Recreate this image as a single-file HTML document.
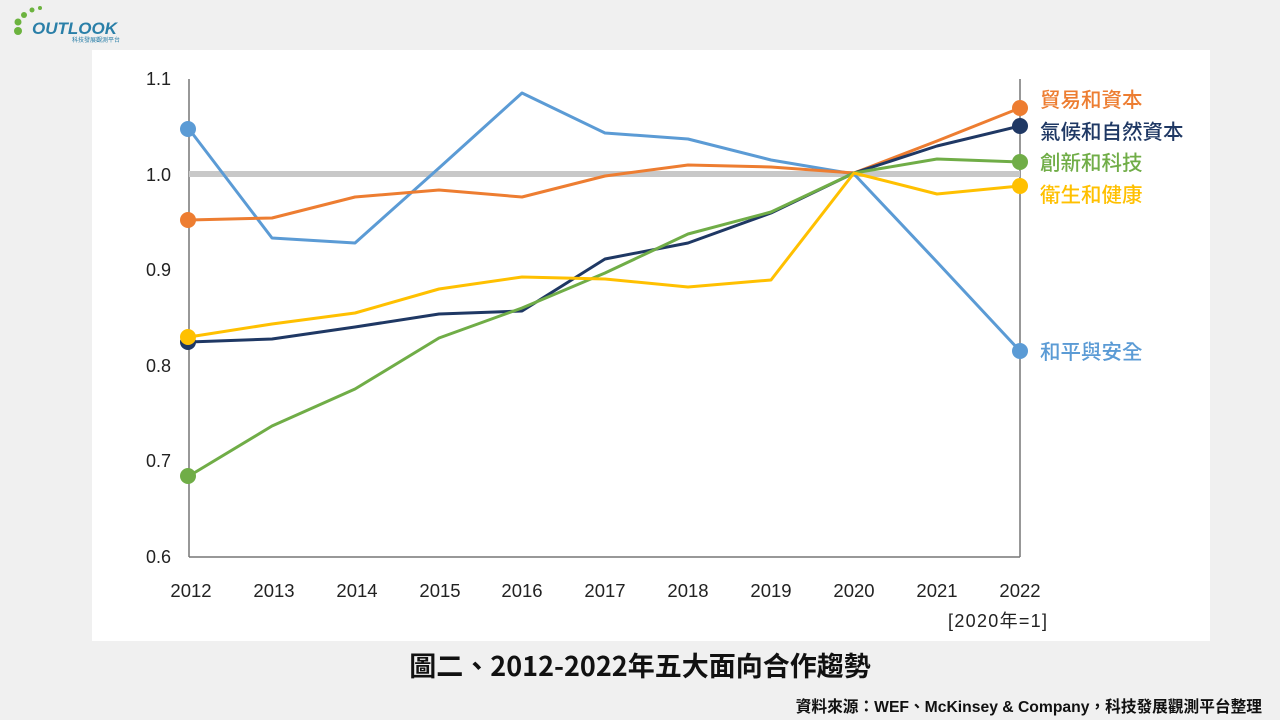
<!DOCTYPE html>
<html><head><meta charset="utf-8"><style>
body{margin:0;width:1280px;height:720px;background:#f0f0f0;overflow:hidden;font-family:"Liberation Sans","Noto Sans CJK TC",sans-serif}
</style></head><body>
<svg width="1280" height="720" xmlns="http://www.w3.org/2000/svg" style="position:absolute;left:0;top:0">
<rect x="92" y="50" width="1118" height="591" fill="#fff"/>
<g fill="#6cb33f"><circle cx="18" cy="31" r="4"/><circle cx="18" cy="22" r="3.5"/><circle cx="24" cy="15" r="3"/><circle cx="32" cy="10" r="2.5"/><circle cx="40" cy="8" r="2"/></g>
<text x="32" y="34" font-size="17" font-weight="bold" fill="#2a7fa8" font-family="Liberation Sans,sans-serif" font-style="italic">OUTLOOK</text>
<text x="72" y="42" font-size="6" fill="#2a7fa8">科技發展觀測平台</text>
<g font-family="Liberation Sans,sans-serif">
<line x1="189" y1="79" x2="189" y2="557" stroke="#777" stroke-width="1.5"/>
<line x1="1020" y1="79" x2="1020" y2="557" stroke="#777" stroke-width="1.5"/>
<line x1="189" y1="557" x2="1020" y2="557" stroke="#777" stroke-width="1.5"/>
<line x1="189" y1="174" x2="1020" y2="174" stroke="#c8c8c8" stroke-width="6"/>
<g font-size="18" fill="#222" text-anchor="end">
<text x="171" y="85">1.1</text><text x="171" y="181">1.0</text><text x="171" y="276">0.9</text><text x="171" y="372">0.8</text><text x="171" y="467">0.7</text><text x="171" y="563">0.6</text></g>
<g font-size="18.5" fill="#222" text-anchor="middle">
<text x="191" y="597">2012</text><text x="274" y="597">2013</text><text x="357" y="597">2014</text><text x="440" y="597">2015</text><text x="522" y="597">2016</text><text x="605" y="597">2017</text><text x="688" y="597">2018</text><text x="771" y="597">2019</text><text x="854" y="597">2020</text><text x="937" y="597">2021</text><text x="1020" y="597">2022</text></g>
<text x="948" y="627" font-size="18" fill="#222" font-family="Liberation Sans,'Noto Sans CJK TC',sans-serif" textLength="99">[2020年=1]</text>
</g>
<g fill="none" stroke-width="3" stroke-linejoin="round">
<polyline stroke="#5b9bd5" points="189,129 272,238 355,243 439,168 522,93 605,133 688,139 771,160 854,174 937,262 1020,351"/>
<polyline stroke="#ed7d31" points="189,220 272,218 355,197 439,190 522,197 605,176 688,165 771,167 854,173 937,141 1020,108"/>
<polyline stroke="#1f3864" points="189,342 272,339 355,327 439,314 522,311 605,259 688,243 771,213 854,173 937,146 1020,126"/>
<polyline stroke="#70ad47" points="189,476 272,426 355,389 439,338 522,308 605,273 688,234 771,212 854,173 937,159 1020,162"/>
<polyline stroke="#ffc000" points="189,337 272,324 355,313 439,289 522,277 605,279 688,287 771,280 854,173 937,194 1020,186"/>
</g>
<circle cx="188" cy="129" r="8" fill="#5b9bd5"/><circle cx="188" cy="220" r="8" fill="#ed7d31"/><circle cx="188" cy="342" r="8" fill="#1f3864"/><circle cx="188" cy="337" r="8" fill="#ffc000"/><circle cx="188" cy="476" r="8" fill="#70ad47"/>
<circle cx="1020" cy="108" r="8" fill="#ed7d31"/><circle cx="1020" cy="126" r="8" fill="#1f3864"/><circle cx="1020" cy="162" r="8" fill="#70ad47"/><circle cx="1020" cy="186" r="8" fill="#ffc000"/><circle cx="1020" cy="351" r="8" fill="#5b9bd5"/>
<g font-size="20.5" font-weight="500" font-family="'Noto Sans CJK TC',sans-serif">
<text x="1040" y="107" fill="#ed7d31">貿易和資本</text>
<text x="1040" y="139" fill="#1f3864">氣候和自然資本</text>
<text x="1040" y="170" fill="#70ad47">創新和科技</text>
<text x="1040" y="202" fill="#ffc000">衛生和健康</text>
<text x="1040" y="359" fill="#5b9bd5">和平與安全</text>
</g>
<text x="640" y="676" font-size="27" font-weight="bold" fill="#111" text-anchor="middle" font-family="'Noto Sans CJK TC',sans-serif">圖二、2012-2022年五大面向合作趨勢</text>
<text x="1262" y="712" font-size="15.7" font-weight="bold" fill="#111" text-anchor="end" font-family="Liberation Sans,'Noto Sans CJK TC',sans-serif">資料來源：WEF、McKinsey &amp; Company，科技發展觀測平台整理</text>
</svg>
</body></html>
